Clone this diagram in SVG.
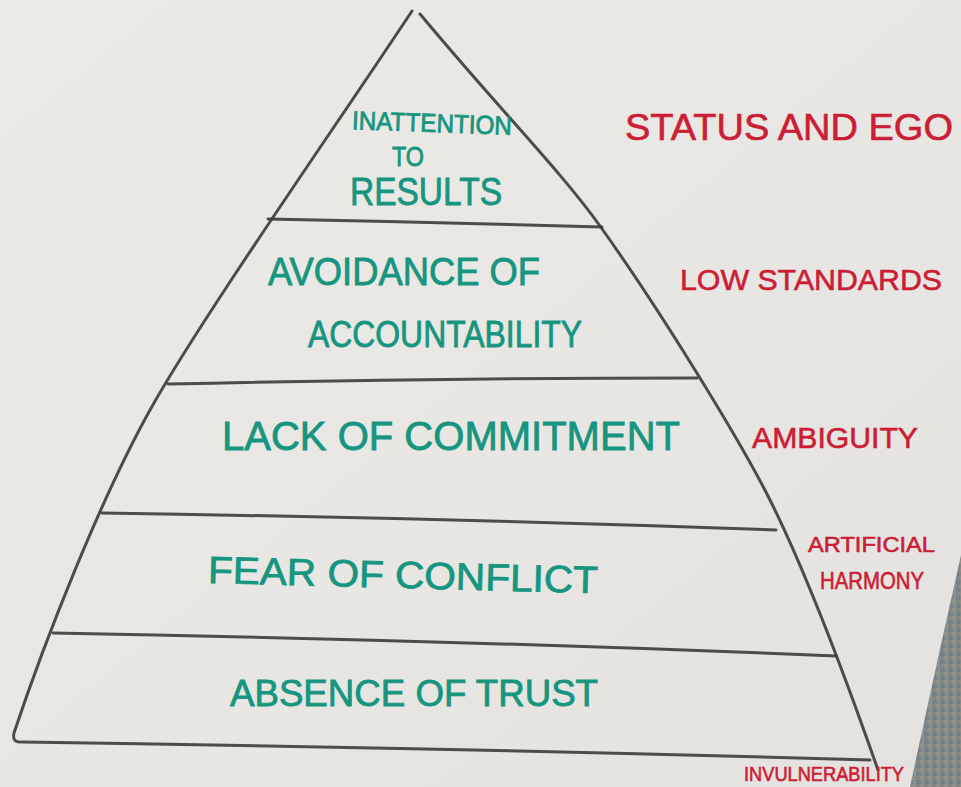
<svg xmlns="http://www.w3.org/2000/svg" width="961" height="787" viewBox="0 0 961 787">
  <defs>
    <linearGradient id="paper" x1="0" y1="0" x2="1" y2="1">
      <stop offset="0" stop-color="#eceae6"/>
      <stop offset="0.5" stop-color="#e8e7e3"/>
      <stop offset="1" stop-color="#e3e2de"/>
    </linearGradient>
    <pattern id="carpet" width="8" height="8" patternUnits="userSpaceOnUse">
      <rect width="8" height="8" fill="#818886"/>
      <rect x="0" y="0" width="4" height="4" fill="#928f84"/>
      <rect x="4" y="4" width="4" height="4" fill="#74808a"/>
      <rect x="2" y="5" width="2" height="2" fill="#9d998d"/>
    </pattern>
    <style>
      .ink { fill: none; stroke: #3b3b3b; stroke-width: 3; stroke-linecap: round; stroke-linejoin: round; opacity: 0.9; }
      .layer { font-family: "Liberation Sans", "DejaVu Sans", sans-serif; fill: #16957f; stroke: #16957f; stroke-width: 0.8; }
      .cause { font-family: "Liberation Sans", "DejaVu Sans", sans-serif; fill: #cc1d35; stroke: #cc1d35; stroke-width: 0.6; }
    </style>
  </defs>

  <!-- paper and floor -->
  <rect width="961" height="787" fill="url(#paper)"/>
  <path d="M961,555 Q935,670 910,787 L961,787 Z" fill="url(#carpet)"/>

  <!-- pyramid outline and tier dividers -->
  <g id="connectors">
    <path class="ink" d="M412,11 C340,120 200,320 150,410 C100,500 45,640 14,733 Q12,742 20,742"/>
    <path class="ink" d="M420,14 C500,110 560,170 600,226 C660,310 740,440 770,500 C810,580 850,690 878,770"/>
    <path class="ink" d="M268,219 Q430,222 602,227"/>
    <path class="ink" d="M168,384 Q430,378 697,378"/>
    <path class="ink" d="M102,513 Q440,518 776,530"/>
    <path class="ink" d="M53,633 Q450,640 836,656"/>
    <path class="ink" d="M22,742 Q450,748 870,760"/>
  </g>

  <!-- pyramid tiers -->
  <g id="results">
    <text class="layer" x="352" y="132" font-size="26" textLength="160" lengthAdjust="spacingAndGlyphs" transform="rotate(2 432 122)">INATTENTION</text>
    <text class="layer" x="392" y="166" font-size="28" textLength="32" lengthAdjust="spacingAndGlyphs">TO</text>
    <text class="layer" x="350" y="205" font-size="38" textLength="152" lengthAdjust="spacingAndGlyphs">RESULTS</text>
  </g>
  <g id="accountability">
    <text class="layer" x="268" y="285" font-size="38" textLength="272" lengthAdjust="spacingAndGlyphs">AVOIDANCE OF</text>
    <text class="layer" x="308" y="347" font-size="36" textLength="274" lengthAdjust="spacingAndGlyphs">ACCOUNTABILITY</text>
  </g>
  <g id="commitment">
    <text class="layer" x="222" y="450" font-size="40" textLength="458" lengthAdjust="spacingAndGlyphs">LACK OF COMMITMENT</text>
  </g>
  <g id="conflict">
    <text class="layer" x="208" y="588" font-size="38" textLength="390" lengthAdjust="spacingAndGlyphs" transform="rotate(1.5 400 575)">FEAR OF CONFLICT</text>
  </g>
  <g id="trust">
    <text class="layer" x="230" y="706" font-size="36" textLength="368" lengthAdjust="spacingAndGlyphs">ABSENCE OF TRUST</text>
  </g>

  <!-- symptoms beside each tier -->
  <g id="status-ego">
    <text class="cause" x="625" y="140" font-size="36" textLength="328" lengthAdjust="spacingAndGlyphs">STATUS AND EGO</text>
  </g>
  <g id="low-standards">
    <text class="cause" x="680" y="290" font-size="30" textLength="262" lengthAdjust="spacingAndGlyphs">LOW STANDARDS</text>
  </g>
  <g id="ambiguity">
    <text class="cause" x="752" y="448" font-size="30" textLength="166" lengthAdjust="spacingAndGlyphs">AMBIGUITY</text>
  </g>
  <g id="artificial-harmony">
    <text class="cause" x="808" y="552" font-size="22" textLength="127" lengthAdjust="spacingAndGlyphs">ARTIFICIAL</text>
    <text class="cause" x="820" y="589" font-size="24" textLength="104" lengthAdjust="spacingAndGlyphs">HARMONY</text>
  </g>
  <g id="invulnerability">
    <text class="cause" x="744" y="781" font-size="20" textLength="160" lengthAdjust="spacingAndGlyphs">INVULNERABILITY</text>
  </g>
</svg>
